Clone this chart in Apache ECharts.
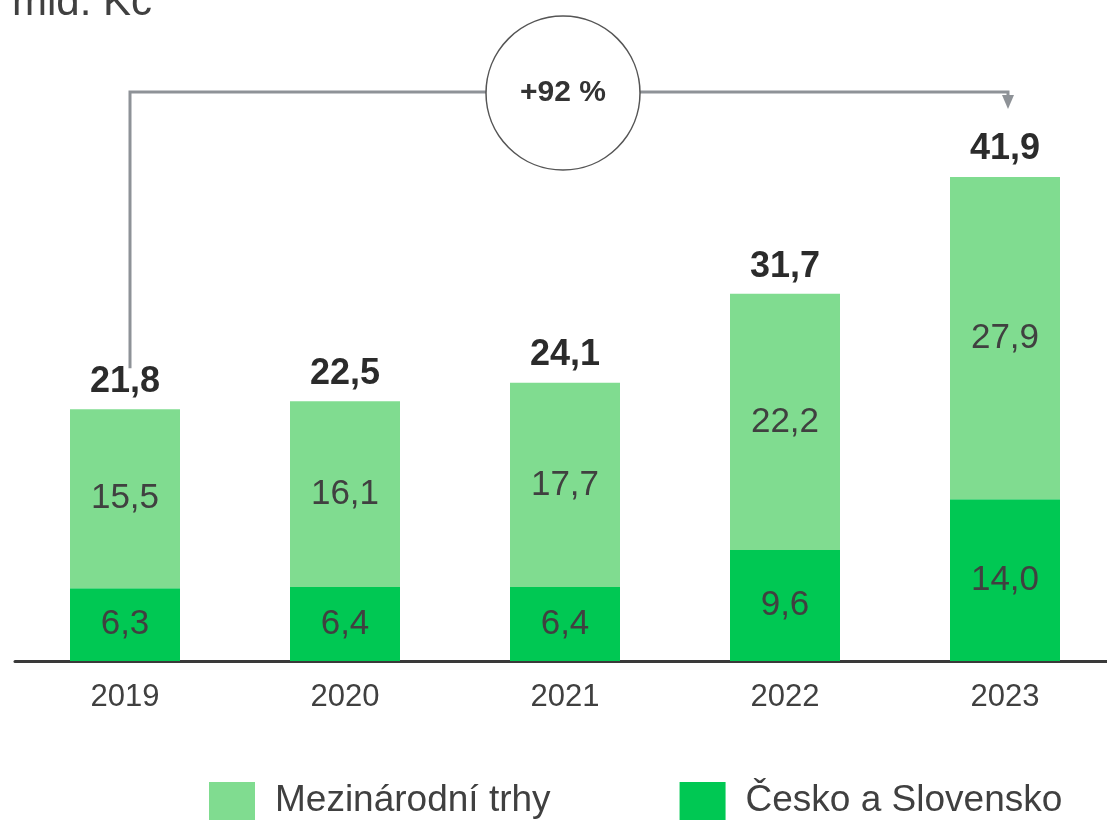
<!DOCTYPE html>
<html>
<head>
<meta charset="utf-8">
<script src="https://cdn.jsdelivr.net/npm/echarts@6/dist/echarts.min.js"></script>
<style>
html,body{margin:0;padding:0;background:#fff;}
#chart{width:1107px;height:822px;}
</style>
</head>
<body>
<div id="chart"></div>
<script>
const categories = ['2019', '2020', '2021', '2022', '2023'];
const domestic = [6.3, 6.4, 6.4, 9.6, 14.0];          // Česko a Slovensko
const international = [15.5, 16.1, 17.7, 22.2, 27.9]; // Mezinárodní trhy
const totals = [21.8, 22.5, 24.1, 31.7, 41.9];
const growthLabel = '+92 %';
const unitLabel = 'mld. Kč';

const fmt = v => Number(v).toFixed(1).replace('.', ',');
const FONT = '"Liberation Sans", Arial, sans-serif';
const TXT = '#404040';

const chart = echarts.init(document.getElementById('chart'), null, {renderer: 'canvas'});

const option = {
  animation: false,
  backgroundColor: '#fff',
  textStyle: {fontFamily: FONT},
  grid: {left: 15, width: 1100, top: 83.5, bottom: 161, containLabel: false, outerBoundsMode: 'none'},
  legend: {
    data: ['Mezinárodní trhy', 'Česko a Slovensko'],
    left: 209, top: 782, padding: 0,
    itemWidth: 46, itemHeight: 38, itemGap: 129,
    icon: 'rect',
    textStyle: {fontSize: 37, color: TXT, fontFamily: FONT, padding: [0, 0, 0, 15]}
  },
  xAxis: {
    type: 'category',
    data: categories,
    axisLine: {show: true, lineStyle: {color: '#3a3a3a', width: 3}},
    axisTick: {show: false},
    axisLabel: {fontSize: 31, color: TXT, margin: 21, fontFamily: FONT}
  },
  yAxis: {
    type: 'value', min: 0, max: 50,
    show: false,
    splitLine: {show: false}
  },
  series: [
    {
      name: 'Česko a Slovensko', type: 'bar', stack: 'total', barWidth: 110,
      data: domestic,
      itemStyle: {color: '#00C853'},
      label: {show: true, position: 'inside', fontSize: 35, color: TXT, fontFamily: FONT,
              formatter: p => fmt(p.value)}
    },
    {
      name: 'Mezinárodní trhy', type: 'bar', stack: 'total', barWidth: 110,
      data: international,
      itemStyle: {color: '#80DC90'},
      label: {show: true, position: 'inside', fontSize: 35, color: TXT, fontFamily: FONT,
              formatter: p => fmt(p.value)}
    },
    {
      name: 'total', type: 'scatter', data: totals,
      symbolSize: 1, silent: true,
      itemStyle: {color: 'rgba(0,0,0,0)'},
      label: {show: true, position: 'top', distance: 9, fontSize: 36, fontWeight: 'bold',
              color: '#2b2b2b', opacity: 1, fontFamily: FONT, formatter: p => fmt(p.value)}
    }
  ]
};
chart.setOption(option);

// annotation: growth arrow from first to last total
const p0 = chart.convertToPixel({xAxisIndex: 0, yAxisIndex: 0}, [0, totals[0]]);
const p4 = chart.convertToPixel({xAxisIndex: 0, yAxisIndex: 0}, [4, totals[4]]);
const pMid = chart.convertToPixel({xAxisIndex: 0, yAxisIndex: 0}, [2, 0]);
const x0 = p0[0] + 5, yStart = p0[1] - 41;
const x1 = p4[0] + 3;
const yTop = p4[1] - 85;
const yEnd = p4[1] - 68;
const lineColor = '#8E9297';

chart.setOption({
  graphic: [
    {type: 'text', x: 12, y: 24, style: {text: unitLabel, font: '42px ' + FONT, fill: TXT, verticalAlign: 'bottom'}},
    {type: 'polyline', shape: {points: [[x0, yStart], [x0, yTop], [x1, yTop], [x1, yEnd - 12]]},
     style: {stroke: lineColor, lineWidth: 3, fill: null}},
    {type: 'polygon', shape: {points: [[x1 - 6, yEnd - 14], [x1 + 6, yEnd - 14], [x1, yEnd]]},
     style: {fill: lineColor}},
    {type: 'circle', shape: {cx: pMid[0] - 2, cy: yTop + 1, r: 77},
     style: {fill: '#fff', stroke: '#555', lineWidth: 1.5}, z: 10},
    {type: 'text', x: pMid[0] - 2, y: yTop + 1, z: 11,
     style: {text: growthLabel, font: 'bold 30px ' + FONT, fill: '#333', align: 'center', verticalAlign: 'middle'}}
  ]
});
</script>
</body>
</html>
